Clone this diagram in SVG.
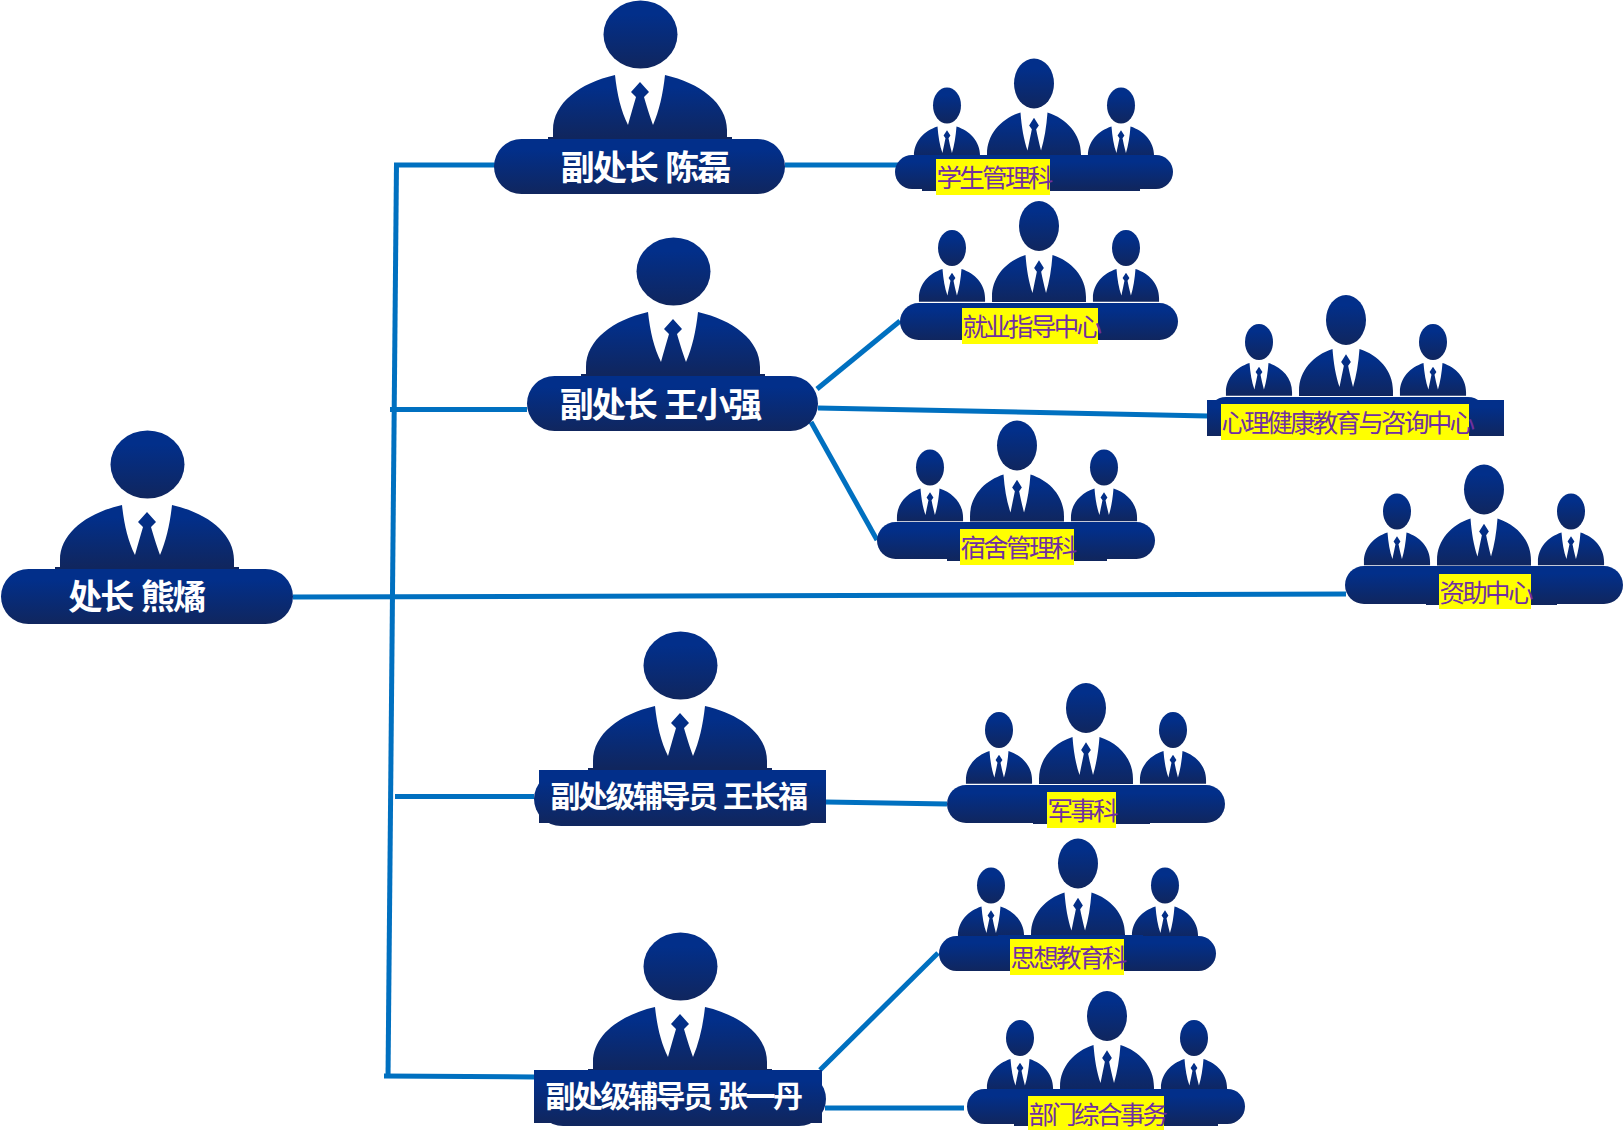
<svg xmlns="http://www.w3.org/2000/svg" xmlns:xlink="http://www.w3.org/1999/xlink" width="1624" height="1130" viewBox="0 0 1624 1130">
<style>
.c{fill:none;stroke:#0070c0;stroke-width:5}
.f{fill:url(#g)}
.y{fill:#ffff00}
.t{font-family:"Noto Sans CJK SC","Noto Sans",sans-serif;font-weight:700;fill:#fff;text-anchor:middle;font-size:34px;letter-spacing:-2px;word-spacing:3px}
.s{font-size:30px;letter-spacing:-2.500px;word-spacing:3px}
.l{font-family:"Noto Sans CJK SC","Noto Sans",sans-serif;font-weight:400;fill:#7030a0;font-size:25.500px;letter-spacing:-2.700px}
</style>
<defs>
<linearGradient id="g" x1="0" y1="0" x2="0" y2="1"><stop offset="0.2" stop-color="#022f8a"/><stop offset="1" stop-color="#10265e"/></linearGradient>
<path id="body" class="f" d="M-87-2V-9C-87-36-60-56-25-64C-23-45-19-28-12-14C-9-25-6-35-4-42L-9-47L0-57L9-47L4-42C6-35 9-25 13-14C19-28 23-45 25-64C60-56 87-36 87-9V-2Z"/>
<g id="person"><ellipse class="f" cx="0.500" cy="-104.500" rx="37" ry="34"/><use xlink:href="#body" href="#body"/><rect x="-92" y="-2" width="184" height="3" fill="#10265e"/></g>
<g id="trio">
<ellipse class="f" cx="0" cy="-29" rx="20" ry="25"/>
<use xlink:href="#body" href="#body" transform="translate(0 48.6) scale(.54 .76)"/>
<ellipse class="f" cx="-87" cy="-7" rx="14" ry="18"/>
<ellipse class="f" cx="87" cy="-7" rx="14" ry="18"/>
<use xlink:href="#body" href="#body" transform="translate(-87 47.9) scale(.38 .53)"/>
<use xlink:href="#body" href="#body" transform="translate(87 47.9) scale(.38 .53)"/>
</g>
</defs>
<rect width="1624" height="1130" fill="#fff"/>
<g id="connectors">
<path class="c" d="M396.500 163L388 1078"/>
<path class="c" d="M394 165H495"/>
<path class="c" d="M390 409.500H527"/>
<path class="c" d="M395 796.500H534"/>
<path class="c" d="M384 1076L534 1077"/>
<path class="c" d="M293 597L1346 594"/>
<path class="c" d="M785 165H901"/>
<path class="c" d="M817 389L900 321"/>
<path class="c" d="M818 408L1208 416"/>
<path class="c" d="M811 422L877 540"/>
<path class="c" d="M826 802L947 804"/>
<path class="c" d="M820 1070L938 953"/>
<path class="c" d="M825 1108H964"/>
</g>
<g id="head-xiong"><use xlink:href="#person" href="#person" transform="translate(147 569)"/><rect class="f" x="1" y="569" width="292" height="55" rx="27.500"/><text class="t" x="136.500" y="609">处长 熊燏</text></g>
<g id="deputy-chen"><use xlink:href="#person" href="#person" transform="translate(640 139)"/><rect class="f" x="494" y="139" width="291" height="55" rx="27.500"/><text class="t" x="645" y="180">副处长 陈磊</text></g>
<g id="deputy-wang"><use xlink:href="#person" href="#person" transform="translate(673 376)"/><rect class="f" x="527" y="376" width="291" height="55" rx="27.500"/><text class="t" x="660" y="417">副处长 王小强</text></g>
<g id="counselor-wang"><use xlink:href="#person" href="#person" transform="translate(680 770)"/><rect class="f" x="534" y="772" width="292" height="54" rx="27"/><rect class="f" x="539" y="770" width="287" height="53"/><text class="t s" x="678" y="807">副处级辅导员 王长福</text></g>
<g id="counselor-zhang"><use xlink:href="#person" href="#person" transform="translate(680 1071)"/><rect class="f" x="536" y="1072" width="290" height="54" rx="27"/><rect class="f" x="534" y="1070" width="288" height="53"/><text class="t s" x="673" y="1107">副处级辅导员 张一丹</text></g>
<g id="dept-student"><use xlink:href="#trio" href="#trio" transform="translate(1034 112.500)"/><rect class="f" x="922" y="157" width="218" height="34"/><rect class="f" x="895" y="155" width="278" height="34" rx="17"/><rect class="y" x="936" y="159" width="114" height="36"/><text class="l" x="936.500" y="187">学生管理科</text></g>
<g id="dept-career"><use xlink:href="#trio" href="#trio" transform="translate(1039 255)"/><rect class="f" x="900" y="303" width="278" height="37" rx="18.500"/><rect class="y" x="962" y="308" width="136" height="36"/><text class="l" x="962.500" y="336">就业指导中心</text></g>
<g id="dept-psych"><use xlink:href="#trio" href="#trio" transform="translate(1346 349)"/><rect class="f" x="1208" y="397" width="278" height="36" rx="18"/><rect class="f" x="1207" y="400" width="297" height="36"/><rect class="y" x="1221" y="404" width="248" height="36"/><text class="l" x="1221.500" y="432">心理健康教育与咨询中心</text></g>
<g id="dept-dorm"><use xlink:href="#trio" href="#trio" transform="translate(1017 474.500)"/><rect class="f" x="947" y="524" width="160" height="37"/><rect class="f" x="877" y="522" width="278" height="37" rx="18.500"/><rect class="y" x="960" y="529" width="114" height="36"/><text class="l" x="960.500" y="557">宿舍管理科</text></g>
<g id="dept-aid"><use xlink:href="#trio" href="#trio" transform="translate(1484 518.500)"/><rect class="f" x="1426" y="568" width="131" height="37"/><rect class="f" x="1345" y="566" width="278" height="38" rx="19"/><rect class="y" x="1439" y="574" width="92" height="35"/><text class="l" x="1439.500" y="602">资助中心</text></g>
<g id="dept-military"><use xlink:href="#trio" href="#trio" transform="translate(1086 737)"/><rect class="f" x="1033" y="787" width="117" height="37"/><rect class="f" x="947" y="785" width="278" height="38" rx="19"/><rect class="y" x="1047" y="792" width="69" height="36"/><text class="l" x="1047.500" y="820">军事科</text></g>
<g id="dept-ideology"><use xlink:href="#trio" href="#trio" transform="translate(1078 892.500)"/><rect class="f" x="998" y="935" width="145" height="30"/><rect class="f" x="939" y="936" width="277" height="35" rx="17.500"/><rect class="y" x="1010" y="939" width="114" height="36"/><text class="l" x="1010.500" y="967">思想教育科</text></g>
<g id="dept-admin"><use xlink:href="#trio" href="#trio" transform="translate(1107 1045)"/><rect class="f" x="1014" y="1091" width="204" height="35"/><rect class="f" x="967" y="1089" width="278" height="35" rx="17.500"/><rect class="y" x="1028" y="1096" width="136" height="34"/><text class="l" x="1028.500" y="1124">部门综合事务</text></g>
</svg>
